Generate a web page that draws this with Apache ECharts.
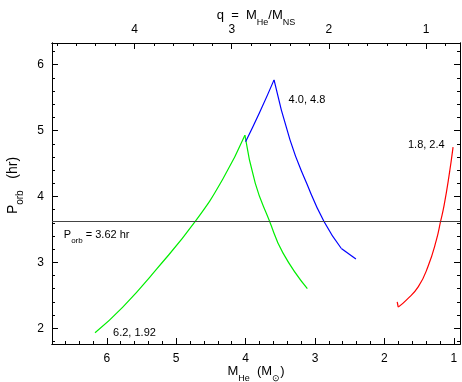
<!DOCTYPE html>
<html>
<head>
<meta charset="utf-8">
<script src="https://cdn.jsdelivr.net/npm/echarts@6/dist/echarts.min.js"></script>
<style>
  html, body { margin: 0; padding: 0; background: #fff; }
  #chart { width: 462px; height: 382px; }
</style>
</head>
<body>
<div id="chart"></div>
<script>
// values: [M_He, P_orb]
var greenRise = [[6.17, 1.93], [5.77, 2.32], [5.28, 2.90], [4.72, 3.63], [4.32, 4.28], [4.01, 4.93]]
var greenFall = [[4.01, 4.93], [3.86, 4.20], [3.66, 3.64], [3.46, 3.14], [3.11, 2.60]]
var blueRise = [[4.0, 4.83], [3.80, 5.27], [3.59, 5.77]]
var blueFall = [[3.59, 5.77], [3.36, 4.86], [3.12, 4.20], [2.87, 3.62], [2.62, 3.21]]
var blueTail = [[2.62, 3.21], [2.41, 3.05]]
var redHook = [[1.815, 2.40], [1.80, 2.32]]
var redCurve = [[1.80, 2.32], [1.68, 2.43], [1.51, 2.63], [1.37, 2.94], [1.25, 3.34],
  [1.19, 3.62], [1.14, 3.86], [1.07, 4.30], [1.01, 4.75]]
var pOrbLine = 3.62
var M_NS = 1.4

// tick labels
var mTicks = [1, 2, 3, 4, 5, 6]
var qTicks = [1, 2, 3, 4]
var pTicks = [2, 3, 4, 5, 6]

// annotations (anchor is the left edge of the text)
var noteText = ['4.0, 4.8', '1.8, 2.4', '6.2, 1.92', '{n|P}{s|orb}{n| = 3.62 hr}']
var noteAnchor = [[3.38, 5.47], [1.66, 4.78], [5.91, 1.93], [6.62, 3.41]]

var mMin = 0.91, mMax = 6.79
var pMin = 1.76, pMax = 6.33

function steps(from, to, step) {
  var out = []
  for (var k = Math.round(from / step); k * step <= to + 1e-9; k++) {
    out.push(+(k * step).toFixed(3))
  }
  return out
}

var font = "'Liberation Sans', Arial, sans-serif"
var black = '#000'

function axisBase(extra) {
  var a = {
    type: 'value',
    splitLine: { show: false },
    nameMoveOverlap: false,
    axisLine: { show: true, lineStyle: { color: black, width: 1 } },
    axisLabel: { show: false },
    axisTick: { show: true, inside: true, length: 3, lineStyle: { color: black, width: 1 } }
  }
  for (var k in extra) a[k] = extra[k]
  return a
}

function majorLabel(values, margin) {
  return { show: true, customValues: values, margin: margin, color: black, fontSize: 12, fontFamily: font }
}
function majorTick(values) {
  return { show: true, inside: true, length: 6, customValues: values, lineStyle: { color: black, width: 1 } }
}
function minorTick(values) {
  return { show: true, inside: true, length: 3, customValues: values, lineStyle: { color: black, width: 1 } }
}

var nameRich = {
  n: { fontSize: 13, fontFamily: font, color: black },
  s: { fontSize: 9, fontFamily: font, color: black, verticalAlign: 'bottom', padding: [0, 0, -5, 0] }
}
var yNameRich = {
  n: { fontSize: 14, fontFamily: font, color: black },
  s: { fontSize: 10, fontFamily: font, color: black, verticalAlign: 'bottom', padding: [0, 0, -5, 0] }
}

var chart = echarts.init(document.getElementById('chart'))

var lineSeries = function(data, color) {
  return {
    type: 'line',
    data: data,
    showSymbol: false,
    symbol: 'none',
    smooth: 0.5,
    animation: false,
    lineStyle: { color: color, width: 1.2 },
    xAxisIndex: 0,
    yAxisIndex: 0,
    z: 3
  }
}

var redSeries = lineSeries(redCurve, '#ff0000')
redSeries.markLine = {
  silent: true,
  symbol: 'none',
  label: { show: false },
  lineStyle: { color: '#444', width: 1, type: 'solid' },
  data: [{ yAxis: pOrbLine }]
}

chart.setOption({
  animation: false,
  backgroundColor: '#fff',
  textStyle: { fontFamily: font },
  grid: { left: 52, right: 2, top: 43, bottom: 38, outerBoundsMode: 'none' },
  xAxis: [
    axisBase({
      position: 'bottom', inverse: true, min: mMin, max: mMax,
      axisLabel: majorLabel(mTicks, 9), axisTick: majorTick(mTicks),
      name: '{n|M}{s|He}{n|  (M}{s|\u2299}{n|)}', nameLocation: 'middle', nameGap: 21,
      nameTextStyle: { rich: nameRich }
    }),
    axisBase({
      position: 'bottom', inverse: true, min: mMin, max: mMax,
      axisTick: minorTick(steps(1.0, 6.6, 0.2))
    }),
    axisBase({
      position: 'top', inverse: true, min: mMin / M_NS, max: mMax / M_NS,
      axisLabel: majorLabel(qTicks, 7), axisTick: majorTick(qTicks),
      name: '{n|q  =  M}{s|He}{n|/M}{s|NS}', nameLocation: 'middle', nameGap: 21,
      nameTextStyle: { rich: nameRich }
    }),
    axisBase({
      position: 'top', inverse: true, min: mMin / M_NS, max: mMax / M_NS,
      axisTick: minorTick(steps(0.8, 4.8, 0.2))
    })
  ],
  yAxis: [
    axisBase({
      position: 'left', min: pMin, max: pMax,
      axisLabel: majorLabel(pTicks, 8), axisTick: majorTick(pTicks),
      name: '{n|P}{s|orb}{n|   (hr)}', nameLocation: 'middle', nameGap: 32, nameRotate: 90,
      nameTextStyle: { rich: yNameRich, padding: [0, 0, 0, 16] }
    }),
    axisBase({
      position: 'left', min: pMin, max: pMax,
      axisTick: minorTick(steps(1.8, 6.2, 0.2))
    }),
    axisBase({
      position: 'right', min: pMin, max: pMax,
      axisTick: majorTick(pTicks)
    }),
    axisBase({
      position: 'right', min: pMin, max: pMax,
      axisTick: minorTick(steps(1.8, 6.2, 0.2))
    })
  ],
  series: [
    lineSeries(greenRise, '#00ee00'),
    lineSeries(greenFall, '#00ee00'),
    lineSeries(blueRise, '#0000ff'),
    lineSeries(blueFall, '#0000ff'),
    lineSeries(blueTail, '#0000ff'),
    lineSeries(redHook, '#ff0000'),
    redSeries,
    {
      type: 'scatter',
      symbolSize: 0,
      itemStyle: { opacity: 1 },
      data: noteAnchor.map(function(p, i) { return { value: p, name: noteText[i] } }),
      label: {
        show: true,
        position: [0, 0],
        align: 'left',
        verticalAlign: 'middle',
        formatter: function(p) { return p.name },
        color: black,
        fontSize: 11,
        fontFamily: font,
        rich: {
          n: { fontSize: 11, fontFamily: font, color: black },
          s: { fontSize: 8, fontFamily: font, color: black, verticalAlign: 'bottom', padding: [0, 0, -4, 0] }
        }
      },
      z: 4
    }
  ]
})
</script>
</body>
</html>
